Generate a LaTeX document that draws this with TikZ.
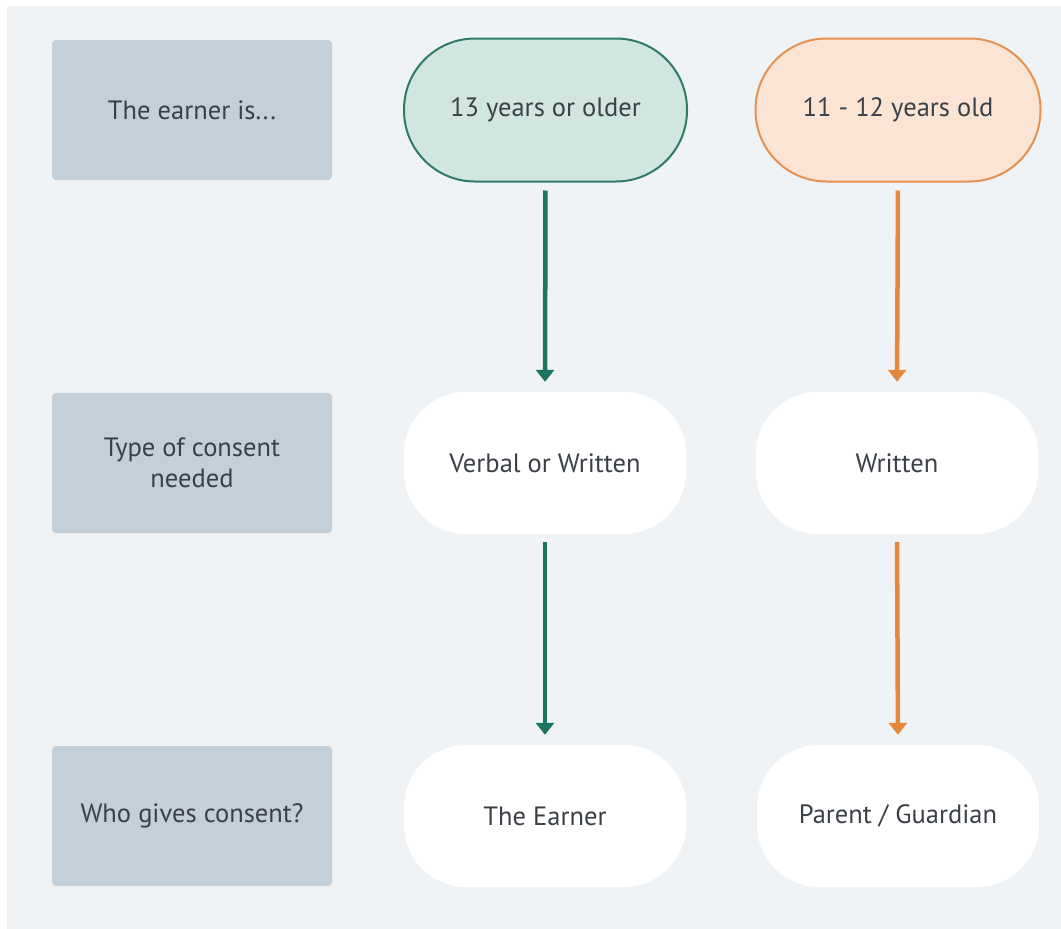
\documentclass[tikz,border=0pt]{standalone}
\usepackage{fontspec}
\setmainfont{PT Sans}
\usetikzlibrary{arrows.meta}
\definecolor{bgc}{HTML}{EFF3F6}
\definecolor{lblfill}{HTML}{C3CFD9}
\definecolor{txt}{HTML}{3B4047}
\definecolor{gfill}{HTML}{D2E6E0}
\definecolor{gline}{HTML}{2F7A68}
\definecolor{garrow}{HTML}{1B7560}
\definecolor{ofill}{HTML}{FCE4D5}
\definecolor{oline}{HTML}{E39253}
\definecolor{oarrow}{HTML}{E5883C}
\tikzset{
  base/.style={font=\fontsize{26.5}{31}\selectfont, text=txt, align=center, inner sep=0pt},
  lbl/.style={base, fill=lblfill, minimum width=280pt, minimum height=140pt, rounded corners=4pt},
  greennode/.style={base, fill=gfill, draw=gline, line width=2pt, minimum width=283pt, minimum height=143pt, rounded corners=71pt},
  orangenode/.style={base, fill=ofill, draw=oline, line width=2pt, minimum width=285pt, minimum height=143pt, rounded corners=71pt},
  whitenode/.style={base, fill=white, minimum width=282pt, minimum height=142pt, rounded corners=62pt},
  garr/.style={draw=garrow, line width=4.5pt, -{Triangle[length=12pt,width=18pt]}, shorten <=8pt, shorten >=10pt},
  oarr/.style={draw=oarrow, line width=4.5pt, -{Triangle[length=12pt,width=18pt]}, shorten <=8pt, shorten >=10pt},
}
\begin{document}
\begin{tikzpicture}[x=1pt,y=-1pt]
\useasboundingbox (0,0) rectangle (1061,929);
\fill[white] (0,0) rectangle (1061,929);
\fill[bgc] (7,6) rectangle (1061,929);
\node[lbl] (l1) at (192,110) {The earner is...};
\node[lbl] (l2) at (192,463) {Type of consent\\needed};
\node[lbl] (l3) at (192,816) {Who gives consent?};
\node[greennode] (a1) at (545.5,110) {13 years or older};
\node[orangenode] (b1) at (898,110) {11 - 12 years old};
\node[whitenode] (a2) at (545,463) {Verbal or Written};
\node[whitenode] (b2) at (897,463) {Written};
\node[whitenode] (a3) at (545,816) {The Earner};
\node[whitenode] (b3) at (898,816) {Parent / Guardian};
\draw[garr] (a1.south) -- (a2.north);
\draw[garr] (a2.south) -- (a3.north);
\draw[oarr] (b1.south) -- (b2.north);
\draw[oarr] (b2.south) -- (b3.north);
\end{tikzpicture}
\end{document}
